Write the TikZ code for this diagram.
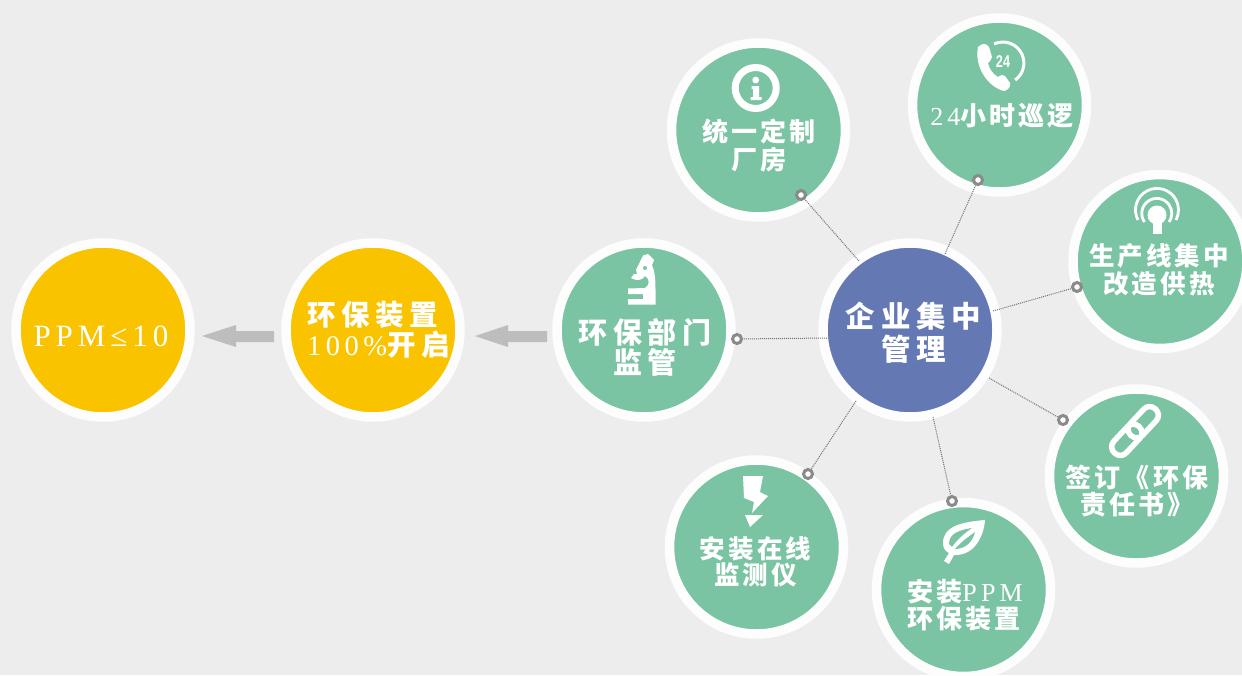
\documentclass[tikz,border=0pt]{standalone}
\usepackage{fontspec}
\newfontfamily\cjk[LetterSpace=12]{Noto Sans CJK SC}
\newfontfamily\cjkw[LetterSpace=20]{Noto Sans CJK SC}
\newfontfamily\latin[LetterSpace=16]{Liberation Serif}
\newfontfamily\smallbold{Liberation Sans}
\definecolor{bg}{HTML}{EDEDED}
\definecolor{grn}{HTML}{7BC4A3}
\definecolor{ylw}{HTML}{FAC300}
\definecolor{blu}{HTML}{6478B4}
\definecolor{arr}{HTML}{BDBDBD}
\definecolor{ringc}{HTML}{8A8A8A}
\tikzset{
  disc/.style={circle,fill=#1,draw=white!90!bg,line width=9.5pt,minimum size=174pt,inner sep=0pt},
  labeltext/.style={align=center,text=white,inner sep=0pt},
  link/.style={draw=black!55,line width=1pt,dash pattern=on 1pt off 1pt},
  ringdot/.style={circle,draw=ringc,fill=white!85!bg,line width=3pt,minimum size=9pt,inner sep=0pt},
  flow/.style={draw=none,fill=arr},
  icon/.style={fill=white,draw=none},
  iconline/.style={draw=white,fill=none}
}
\newcommand{\lt}[1]{{\latin\mdseries #1}}
\newcommand{\cj}[2]{\cjk\bfseries\fontsize{#1}{#2}\selectfont}
\newcommand{\cjw}[2]{\cjkw\bfseries\fontsize{#1}{#2}\selectfont}
\begin{document}
\begin{tikzpicture}[x=1pt,y=-1pt]
\useasboundingbox[fill=bg] (0,0) rectangle (1242,675);
% discs
\node[disc=ylw] (ppm) at (103,330) {};
\node[disc=ylw] (dev) at (373,330) {};
\node[disc=grn] (gov) at (644,330) {};
\node[disc=blu] (hub) at (910,330) {};
\node[disc=grn] (fac) at (758.5,130) {};
\node[disc=grn] (pat) at (999.5,105) {};
\node[disc=grn] (heat) at (1160,261.5) {};
\node[disc=grn] (sign) at (1136.5,476) {};
\node[disc=grn] (inst) at (963.5,589.5) {};
\node[disc=grn] (mon) at (756.5,547) {};
% labels
\node[labeltext,font=\latin\fontsize{31}{32}\selectfont] (t1) at (101,336) {PPM≤10};
\node[labeltext,align=left,font=\cjw{28.5}{30}] (t2) at (378.5,330) {环保装置\\\lt{100\%}开启};
\node[labeltext,font=\cjw{29}{30}] (t3) at (645,347) {环保部门\\监管};
\node[labeltext,font=\cjw{29.5}{33}] (t4) at (913.5,333) {企业集中\\管理};
\node[labeltext,font=\cj{26}{28}] (t5) at (759,146) {统一定制\\厂房};
\node[labeltext,font=\cj{26}{28}] (t6) at (1002,116) {\lt{24}小时巡逻};
\node[labeltext,font=\cj{25.5}{28}] (t7) at (1159,270) {生产线集中\\改造供热};
\node[labeltext,font=\cj{26}{27}] (t8) at (1137,491) {签订《环保\\责任书》};
\node[labeltext,align=left,font=\cj{26}{27}] (t9) at (965,605) {安装\lt{PPM}\\环保装置};
\node[labeltext,font=\cj{25.5}{26}] (t10) at (755.5,562) {安装在线\\监测仪};
% connectors
\coordinate (a1) at (859,261); \node[ringdot] (d1) at (801,195) {};
\coordinate (a2) at (945,254); \node[ringdot] (d2) at (978,180) {};
\coordinate (a3) at (993,311); \node[ringdot] (d3) at (1077,287) {};
\coordinate (a4) at (989,378); \node[ringdot] (d4) at (1063,420) {};
\coordinate (a5) at (933,417); \node[ringdot] (d5) at (952,501) {};
\coordinate (a6) at (856,401); \node[ringdot] (d6) at (808,474) {};
\coordinate (a7) at (827,338); \node[ringdot] (d7) at (737,339) {};
\foreach \i in {1,...,7} \draw[link] (a\i) -- (d\i);
% flow arrows
\fill[flow] (475,336) -- (508,325) -- (508,331) -- (547,331) -- (547,342) -- (508,342) -- (508,347) -- cycle;
\fill[flow] (202,336) -- (236,325) -- (236,331) -- (274,331) -- (274,342) -- (236,342) -- (236,347) -- cycle;
% info icon
\draw[iconline,line width=7pt] (755.7,88) circle (20.5);
\fill[icon] (755.7,80) circle (3.4);
\fill[icon] (751.5,86) -- (759,86) -- (759,97) -- (761.5,97) -- (761.5,100) -- (750.5,100) -- (750.5,97) -- (753,97) -- (753,89) -- (751.5,89) -- cycle;
% phone icon
\fill[icon] (978,47) .. controls (982,43) and (986,43) .. (989,47) -- (992,57) .. controls (992,60) and (989,62) .. (988,63) .. controls (989,69) and (993,74) .. (998,77) .. controls (1001,75) and (1003,74) .. (1005,76) -- (1010,83) .. controls (1011,87) and (1008,90) .. (1004,91) .. controls (988,87) and (974,67) .. (978,47) -- cycle;
\draw[iconline,line width=3pt] (994,44) arc[start angle=-115,end angle=54,radius=21];
\node[inner sep=0pt,text=white,font=\smallbold\bfseries\fontsize{17}{17}\selectfont,xscale=.75] (ph) at (1003,62) {24};
% antenna icon
\draw[iconline,line width=2.8pt] (1138,220) arc[start angle=-208,end angle=28,radius=21.5];
\draw[iconline,line width=2.8pt] (1144.5,222) arc[start angle=-215,end angle=35,radius=15];
\fill[icon] (1157,215) circle (9.5);
\fill[icon] (1152.5,215) rectangle (1162,233.5);
% link icon
\begin{scope}[shift={(1135,431)},rotate=47]
\draw[iconline,line width=5.5pt,rounded corners=8pt] (-30,-8.5) rectangle (6,8.5);
\draw[iconline,line width=5.5pt,rounded corners=8pt] (-6,-8.5) rectangle (30,8.5);
\end{scope}
% leaf icon
\fill[icon] (985,520) .. controls (962,522) and (943,526) .. (943,543) .. controls (943,548) and (945,551) .. (949,553) -- (944,561) -- (949,564) -- (954,555) .. controls (975,556) and (984,535) .. (985,520) -- cycle;
\fill[grn] (972,528) .. controls (960,530) and (949,533) .. (949,544) -- (952,547) .. controls (956,541) and (963,534) .. (972,528) -- cycle;
\fill[grn] (975,532) .. controls (968,537) and (961,542) .. (955,549) .. controls (966,549) and (973,541) .. (975,532) -- cycle;
% bolt icon
\fill[icon] (743,476) -- (763,476) -- (760,492) -- (768,496) -- (752,513) -- (754,502) -- (744,498) -- cycle;
\fill[icon] (745,515) -- (763,515) -- (750,527) -- cycle;
% microscope icon
\fill[icon] (643,255.5) -- (648,254) -- (654,260) -- (652,265) .. controls (655,272) and (655.5,280) .. (655.5,290) -- (655.5,304.5) -- (628,304.5) -- (628,299) -- (643,299) -- (643,294) -- (628,294) -- (628,288.5) -- (645,288) .. controls (650,285) and (650,279) .. (645,276) .. controls (642,281) and (636,281) .. (631,278) -- (634,274) -- (637,274) -- (636,270) -- cycle;
\fill[grn] (645,268) circle (2);
\end{tikzpicture}
\end{document}
